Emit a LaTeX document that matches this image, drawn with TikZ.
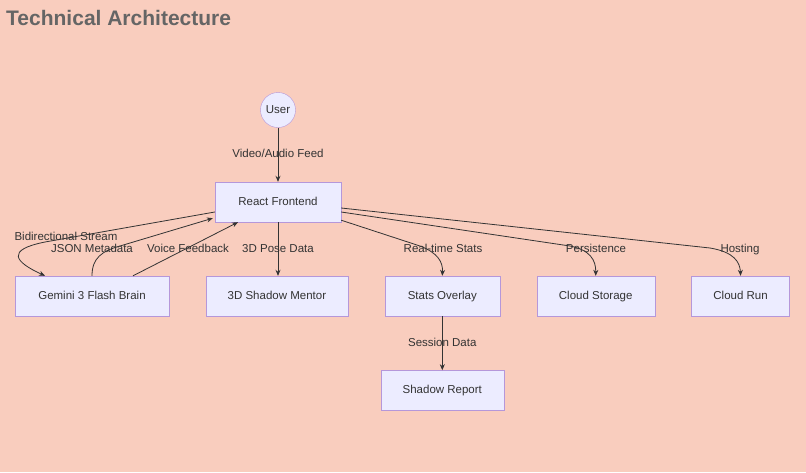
\documentclass[tikz,border=0pt]{standalone}
\usepackage{fontspec}
\setmainfont{Liberation Sans}
\usetikzlibrary{positioning,arrows.meta}
\definecolor{ArchBg}{HTML}{F9CDBE}
\definecolor{ArchFill}{HTML}{ECECFF}
\definecolor{ArchLine}{HTML}{B597DA}
\definecolor{ArchText}{HTML}{333333}
\definecolor{ArchTitle}{HTML}{656565}

\begin{document}
\begin{tikzpicture}[x=1pt,y=-1pt,>={Stealth[length=6pt,width=5pt]},node distance=36.5pt]
  \tikzstyle{archbox}=[draw=ArchLine,fill=ArchFill,minimum height=40pt,inner sep=0pt,
    text height=8.5pt,text depth=2.5pt,text=ArchText,font=\fontsize{11.5}{13}\selectfont]
  \tikzstyle{flowlabel}=[text=ArchText,inner sep=1pt,text height=8.5pt,text depth=2.5pt,
    font=\fontsize{11.5}{13}\selectfont]
  \tikzstyle{flow}=[->,draw=ArchText,line width=0.8pt]
  \fill[ArchBg] (0,0) rectangle (806,472);
  \useasboundingbox (0,0) rectangle (806,472);
  \node[anchor=west,inner sep=0pt,text=ArchTitle,font=\fontsize{21}{24}\selectfont\bfseries] (title) at (6,18) {Technical Architecture};
  \node[circle,draw=ArchLine,fill=ArchFill,minimum size=35pt,inner sep=0pt,text=ArchText,
    font=\fontsize{11.5}{13}\selectfont] (user) at (278,110) {User};
  \node[archbox,minimum width=126pt] (front) at (278,202) {React Frontend};
  \node[archbox,minimum width=154pt] (gemini) at (92,296) {Gemini 3 Flash Brain};
  \node[archbox,minimum width=142pt,right=of gemini] (mentor) {3D Shadow Mentor};
  \node[archbox,minimum width=115pt,right=of mentor] (stats) {Stats Overlay};
  \node[archbox,minimum width=118pt,right=of stats] (storage) {Cloud Storage};
  \node[archbox,minimum width=98pt,right=of storage] (run) {Cloud Run};
  \node[archbox,minimum width=123pt,below=54pt of stats] (report) {Shadow Report};
  \draw[flow] (user) -- node[flowlabel] (feedlbl) {Video/Audio Feed} (front);
  \draw[flow] ([yshift=-10pt]front.west) -- (45,242) .. controls (5,250) and (15,262) .. ([xshift=-47pt]gemini.north);
  \draw[flow] (gemini.north) .. controls (92,258) and (102,251) .. (120,246) -- ([xshift=-2pt,yshift=4pt]front.south west);
  \draw[flow] ([xshift=41pt]gemini.north) -- ([xshift=-40pt]front.south);
  \draw[flow] (front) -- node[flowlabel] (poselbl) {3D Pose Data} (front |- mentor.north);
  \draw[flow] ([yshift=2pt]front.south east) -- (420,246) .. controls (438,253) and (443,262) .. (stats.north);
  \draw[flow] ([yshift=-10pt]front.east) -- (570,246) .. controls (590,250) and (596,260) .. (storage.north);
  \draw[flow] ([yshift=-6pt]front.east) -- (710,248) .. controls (734,252) and (740,262) .. (run.north);
  \draw[flow] (stats) -- node[flowlabel] (sessionlbl) {Session Data} (report);
  \node[flowlabel] (bidilbl) at (66,237) {Bidirectional Stream};
  \node[flowlabel] (jsonlbl) at (92,249) {JSON Metadata};
  \node[flowlabel] (voicelbl) at (188,249) {Voice Feedback};
  \node[flowlabel] (realtimelbl) at (443,249) {Real-time Stats};
  \node[flowlabel] (persistlbl) at (596,249) {Persistence};
  \node[flowlabel] (hostlbl) at (740,249) {Hosting};
\end{tikzpicture}
\end{document}
